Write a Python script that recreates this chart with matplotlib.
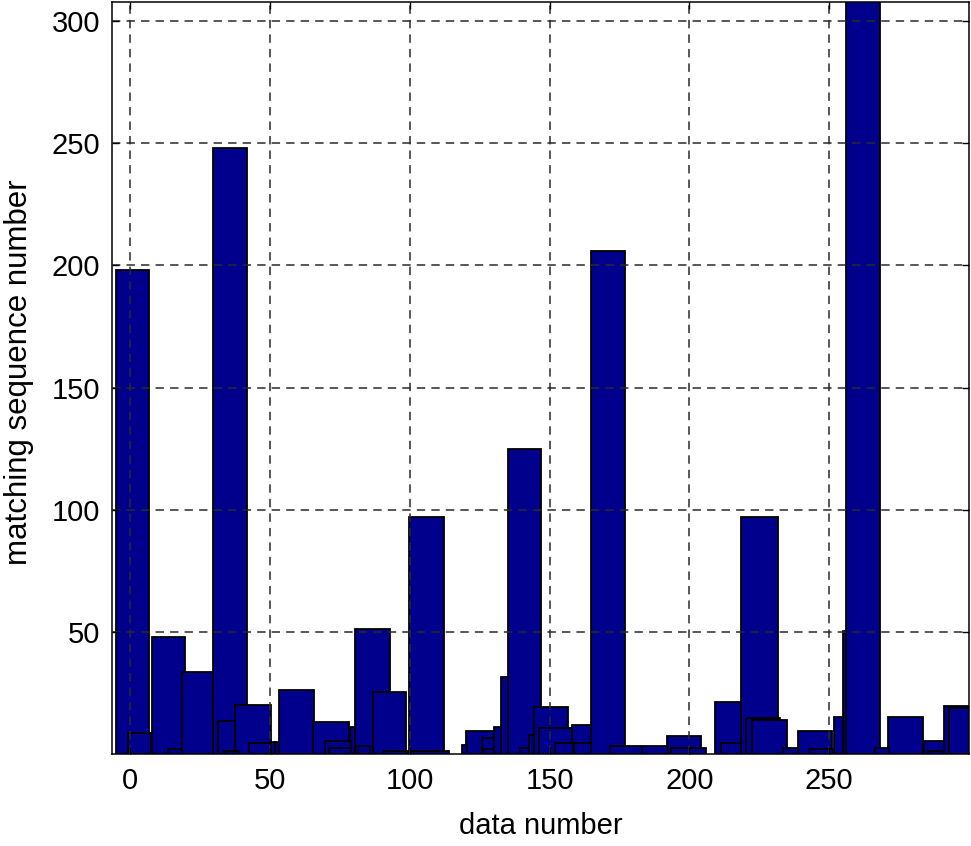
import matplotlib
matplotlib.use("Agg")
import matplotlib.pyplot as plt
import numpy as np

plt.rcParams['font.family'] = ['Liberation Sans', 'DejaVu Sans']

# bar centres, widths and heights (data units)
bar_x = [0.8, 3.2, 13.7, 15.9, 24.1, 35.7, 34.5, 36.3, 43.9, 46.4,
         51.0, 52.5, 59.4, 71.9, 74.3, 75.1, 79.5, 83.7, 86.6, 92.6,
         95.0, 105.9, 107.3, 119.7, 125.0, 127.9, 128.3, 131.3, 133.9, 141.1,
         141.0, 143.6, 150.6, 152.1, 155.1, 161.4, 161.8, 170.8, 177.3, 187.6,
         198.2, 199.6, 213.8, 214.8, 225.0, 226.3, 228.7, 236.0, 244.9, 247.1,
         253.3, 255.4, 262.1, 268.9, 277.3, 287.5, 288.3, 296.5, 298.8]
bar_w = [12.0, 8.4, 11.9, 5.1, 11.2, 12.0, 6.0, 5.4, 12.9, 7.8,
         1.4, 1.5, 12.3, 12.8, 9.2, 7.8, 1.9, 4.2, 12.2, 11.9,
         8.4, 12.8, 13.6, 1.8, 9.9, 4.5, 3.3, 2.6, 2.6, 11.9,
         3.3, 1.8, 12.2, 11.6, 6.2, 6.8, 6.0, 12.2, 11.4, 9.2,
         12.2, 12.5, 9.2, 7.2, 13.1, 12.2, 12.3, 5.4, 12.0, 8.3,
         3.5, 1.2, 12.3, 4.8, 12.2, 7.2, 5.6, 10.9, 12.2]
bar_h = [198, 8.7, 48, 2.2, 33.6, 248, 13.8, 1.4, 20.2, 4.6,
         5, 5, 26.5, 13.2, 5.6, 2.5, 11.1, 3.6, 51.3, 25.4,
         1.3, 97, 1.3, 4, 9.7, 6.6, 2.2, 11.1, 31.5, 125,
         2.5, 8, 19.3, 10.7, 4.6, 12, 4.6, 206, 3.6, 3.6,
         7.7, 2.5, 21.3, 4.7, 97, 15, 14.1, 2.5, 9.7, 2.2,
         15.2, 50.6, 330, 2.5, 15.2, 5.6, 1.5, 19.9, 18.9]

x_ticks = [0, 50, 100, 150, 200, 250]
y_ticks = [50, 100, 150, 200, 250, 300]

fig = plt.figure(figsize=(9.71, 8.46), dpi=100)
ax = fig.add_axes([0.115, 0.1082, 0.8829, 0.890])

# tall bars first so the short ones keep their outlines on top
order = np.argsort(-np.array(bar_h), kind='stable')
x = np.array(bar_x)[order]
w = np.array(bar_w)[order]
h = np.array(bar_h)[order]
ax.bar(x, h, width=w, color='#00008C', edgecolor='black', linewidth=1.3)

ax.set_xlim(-6.7, 300)
ax.set_ylim(0, 307.8)
ax.set_xticks(x_ticks)
ax.set_yticks(y_ticks)

ax.set_axisbelow(False)
ax.grid(True, color='#2a2a2a', linewidth=1.1, linestyle=(0, (5.5, 4.0)))

ax.tick_params(direction='in', length=5, width=1, top=True, right=True,
               labelsize=21)
ax.tick_params(axis='y', pad=8.4)
ax.tick_params(axis='x', pad=9)
for s in ax.spines.values():
    s.set_linewidth(1.1)

ax.set_xlabel('data number', fontsize=21)
ax.set_ylabel('matching sequence number', fontsize=22.5)
ax.xaxis.set_label_coords(0.5, -0.077)
ax.yaxis.set_label_coords(-0.0906, 0.508)

fig.savefig('out.png', dpi=100)
